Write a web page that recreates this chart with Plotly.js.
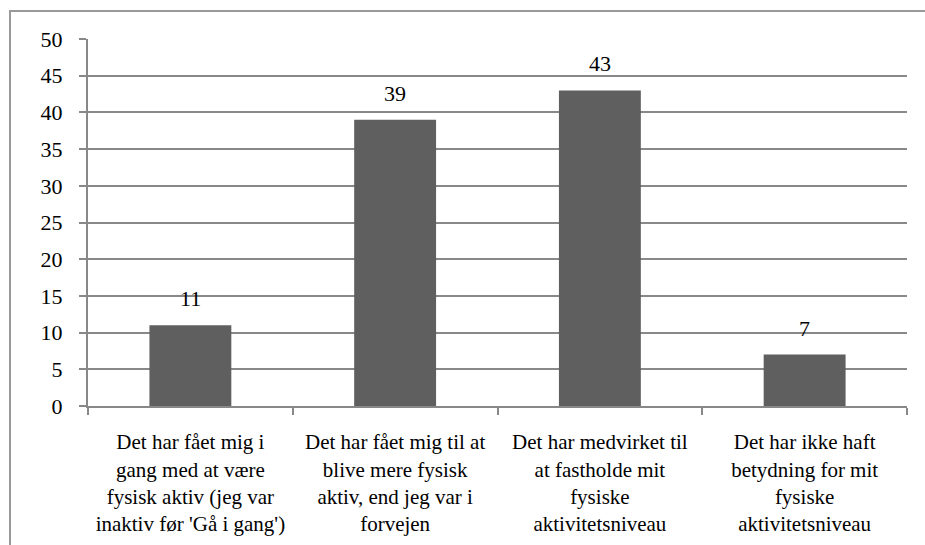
<!DOCTYPE html>
<html>
<head>
<meta charset="utf-8">
<script src="https://cdn.plot.ly/plotly-3.0.1.min.js"></script>
<style>
html,body{margin:0;padding:0;background:#fff;overflow:hidden;}
#frame{position:absolute;left:9px;top:10px;width:940px;height:560px;border:2px solid #999999;box-sizing:border-box;}
#chart{position:absolute;left:0;top:0;width:925px;height:545px;}
</style>
</head>
<body>
<div id="frame"></div>
<div id="chart"></div>
<script>
const categories = [
  "Det har fået mig i<br>gang med at være<br>fysisk aktiv (jeg var<br>inaktiv før 'Gå i gang')",
  "Det har fået mig til at<br>blive mere fysisk<br>aktiv, end jeg var i<br>forvejen",
  "Det har medvirket til<br>at fastholde mit<br>fysiske<br>aktivitetsniveau",
  "Det har ikke haft<br>betydning for mit<br>fysiske<br>aktivitetsniveau"
];
const values = [11, 39, 43, 7];
const yTicks = [0, 5, 10, 15, 20, 25, 30, 35, 40, 45, 50];

const font = {family: "Liberation Serif", size: 22, color: "#000"};
const xfont = {family: "Liberation Serif", size: 21, color: "#000"};

const trace = {
  type: "bar",
  x: categories,
  y: values,
  marker: {color: "#5f5f5f"},
  width: 0.4,
  hoverinfo: "skip"
};

const annotations = values.map((v, i) => ({
  x: categories[i], y: v, xref: "x", yref: "y",
  text: String(v), showarrow: false, yanchor: "bottom", yshift: 12,
  font: font
}));

const layout = {
  width: 925, height: 545,
  margin: {l: 88, r: 18, t: 39, b: 139},
  paper_bgcolor: "rgba(0,0,0,0)",
  plot_bgcolor: "rgba(0,0,0,0)",
  showlegend: false,
  font: font,
  xaxis: {
    type: "category",
    showline: true, linecolor: "#888888", linewidth: 2,
    ticks: "outside", tickson: "boundaries", ticklen: 7, tickwidth: 2, tickcolor: "#888888",
    showgrid: false, zeroline: false,
    tickfont: xfont, automargin: false, ticklabelstandoff: 16
  },
  yaxis: {
    range: [0, 50], tickvals: yTicks, ticktext: yTicks.map(String),
    showline: true, linecolor: "#888888", linewidth: 2,
    ticks: "outside", ticklen: 7, tickwidth: 2, tickcolor: "#888888",
    showgrid: true, gridcolor: "#888888", gridwidth: 2,
    zeroline: false, tickfont: font, automargin: false, ticklabelstandoff: 12
  },
  annotations: annotations
};

Plotly.newPlot("chart", [trace], layout, {displayModeBar: false, staticPlot: true});
</script>
</body>
</html>
